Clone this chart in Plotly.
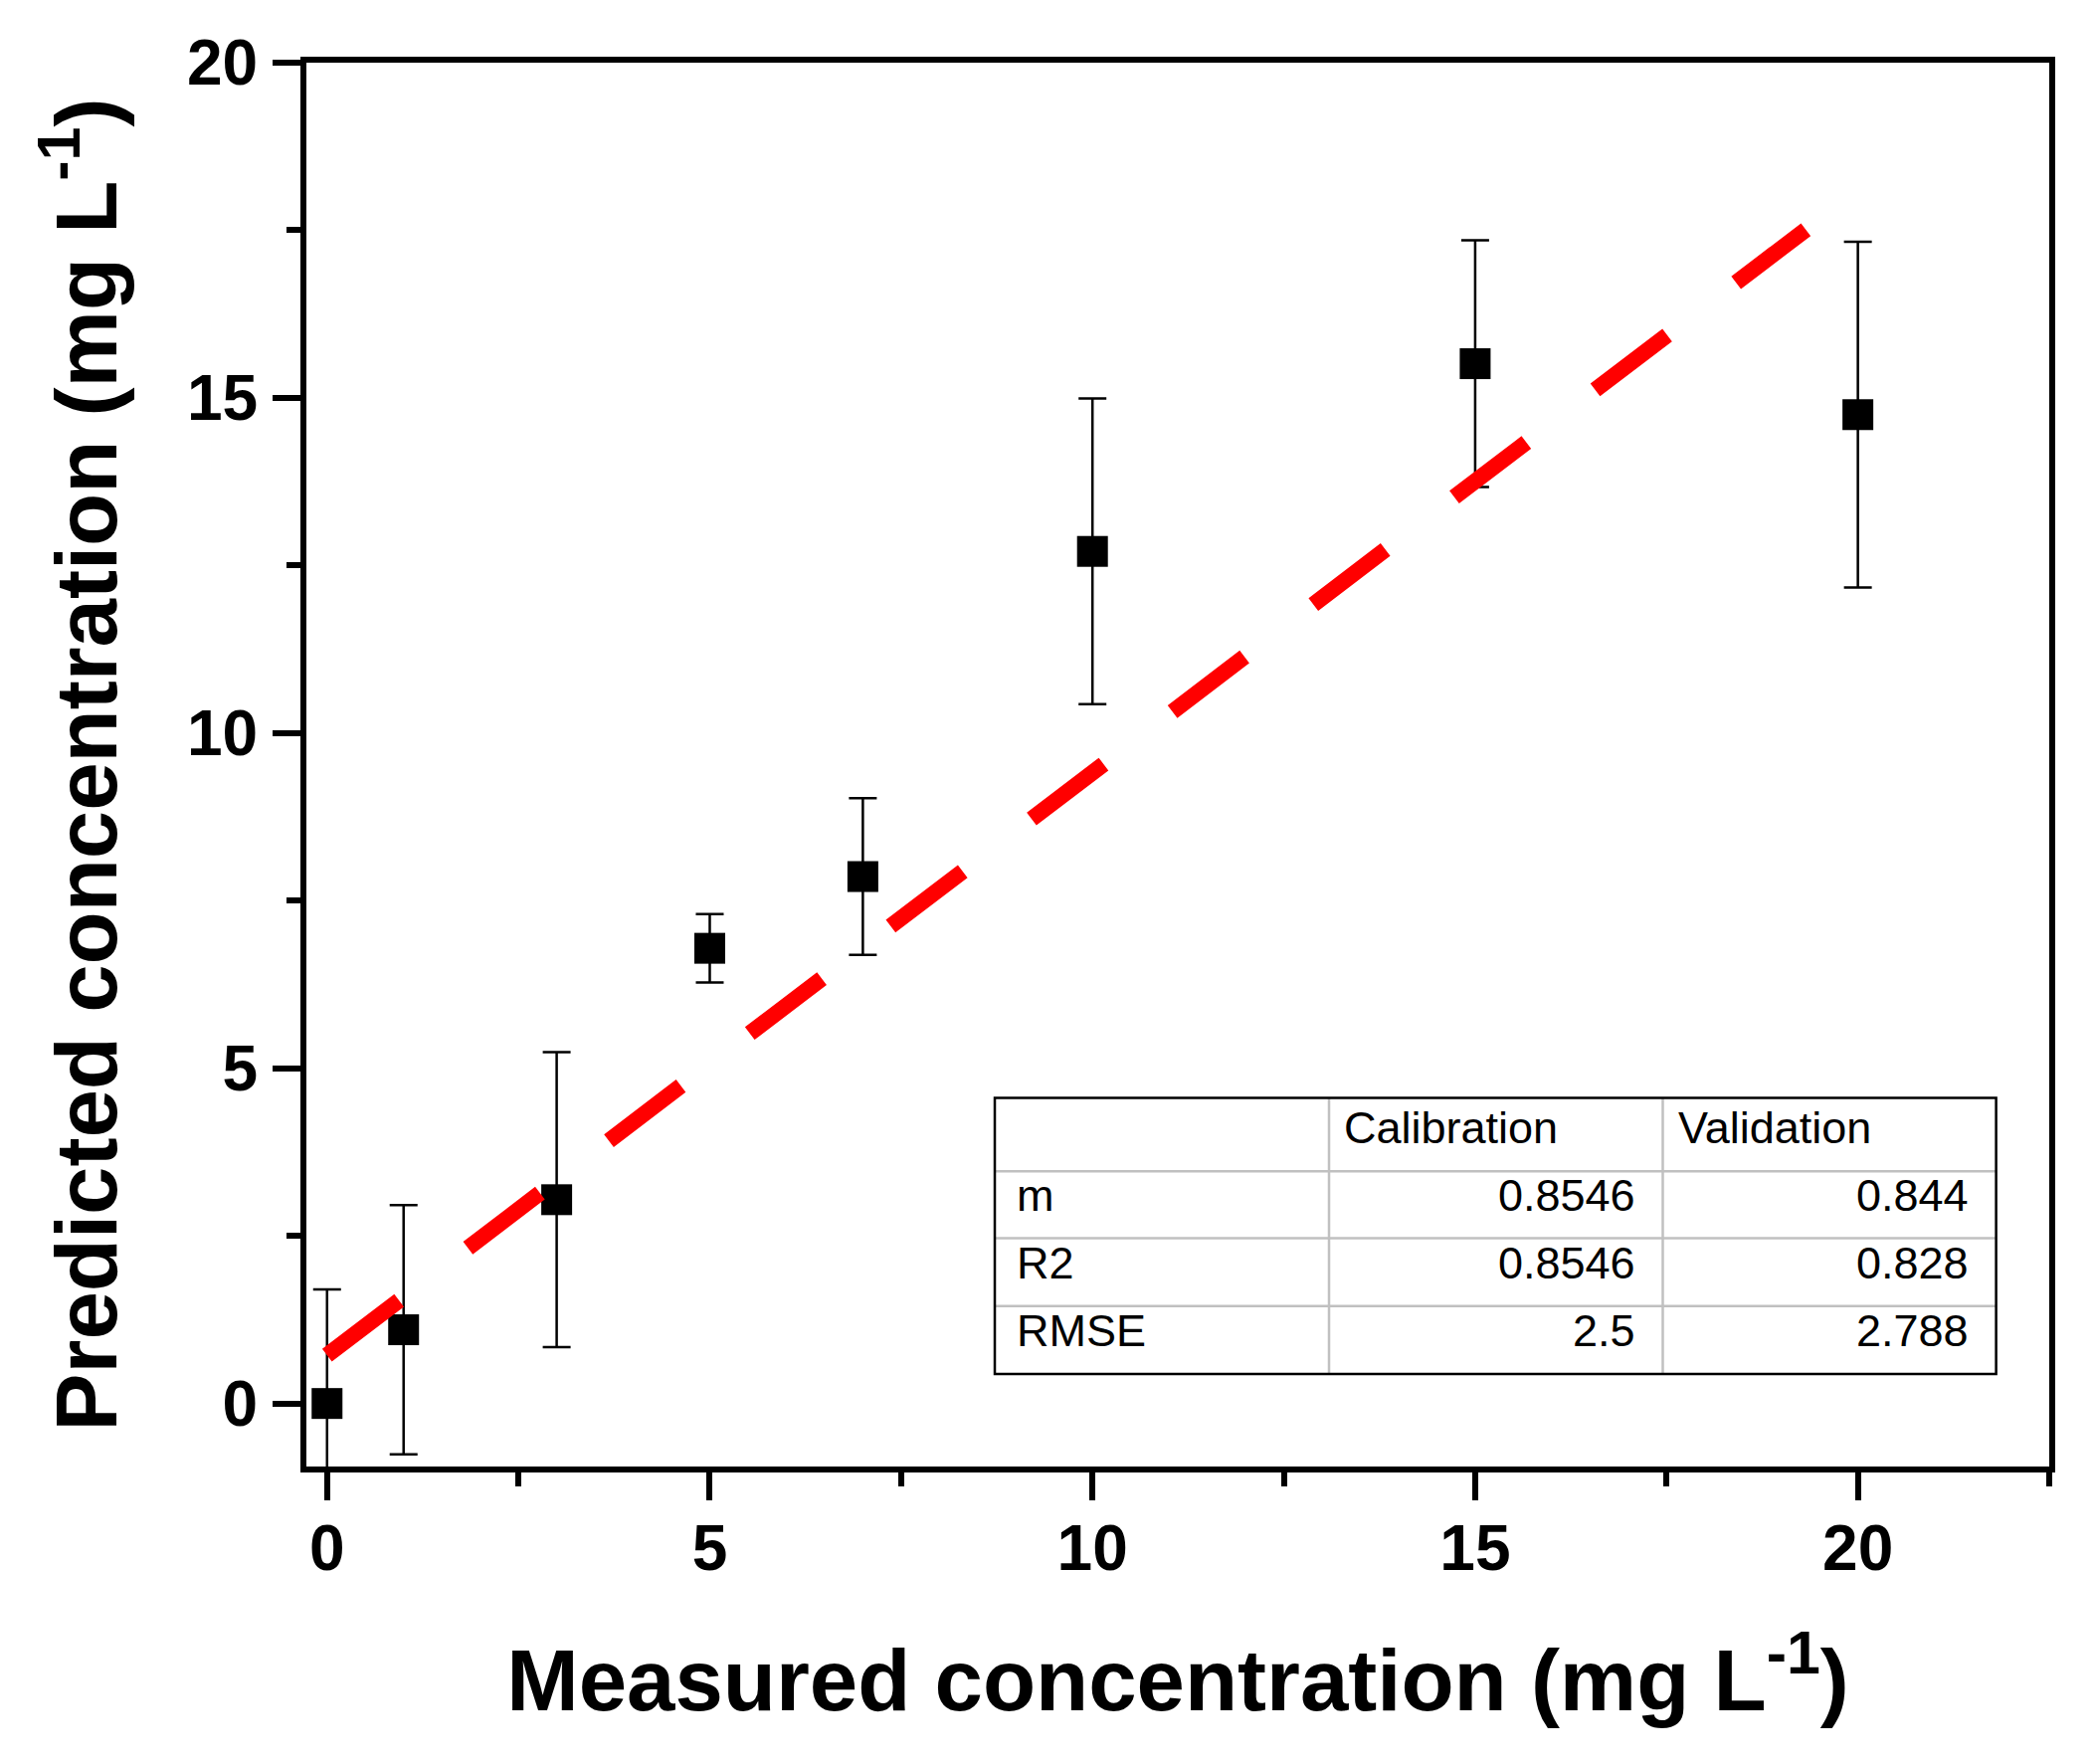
import plotly.graph_objects as go

# ---------------- data ----------------
measured = [0, 1, 3, 5, 7, 10, 15, 20]
predicted = [0.0, 1.10, 3.04, 6.79, 7.86, 12.71, 15.51, 14.75]
pred_err = [1.70, 1.86, 2.20, 0.51, 1.17, 2.28, 1.84, 2.58]

fit_x = [0.0, 19.32]
fit_y = [0.72, 17.51]

x_ticks = [0, 5, 10, 15, 20]
y_ticks = [0, 5, 10, 15, 20]

table_header = ["", "Calibration", "Validation"]
table_labels = ["m", "R2", "RMSE"]
table_calibration = ["0.8546", "0.8546", "2.5"]
table_validation = ["0.844", "0.828", "2.788"]

# ---------------- figure ----------------
W, H = 2106, 1773
ML, MR, MT, MB = 308, 46, 63, 299
PW, PH = W - ML - MR, H - MT - MB

FONT = "Liberation Sans, Arial, sans-serif"

fig = go.Figure()

fig.add_trace(go.Scatter(
    x=measured, y=predicted, mode="markers",
    marker=dict(symbol="square", size=31, color="black"),
    error_y=dict(type="data", array=pred_err, visible=True,
                 color="black", thickness=2.5, width=14),
    showlegend=False, cliponaxis=True,
))

fig.add_trace(go.Scatter(
    x=fit_x, y=fit_y, mode="lines",
    line=dict(color="#ff0000", width=16, dash="91px,87px"),
    showlegend=False,
))

axis_common = dict(
    showgrid=False, zeroline=False,
    showline=True, linecolor="black", linewidth=6, mirror=True,
    ticks="outside", ticklen=28, tickwidth=6, tickcolor="black",
    tickfont=dict(family=FONT, size=64, color="black", weight="bold"),
    minor=dict(ticks="outside", ticklen=14, tickwidth=6, tickcolor="black", dtick=2.5),
)

fig.update_xaxes(
    range=[-0.27, 22.5], tickvals=x_ticks, ticktext=[str(v) for v in x_ticks],
    ticklabelstandoff=-7,
    title=dict(text="Measured concentration (mg L<sup>-1</sup>)",
               font=dict(family=FONT, size=87, color="black", weight="bold"),
               standoff=69),
    **axis_common,
)
fig.update_yaxes(
    range=[-0.94, 20], tickvals=y_ticks, ticktext=[str(v) for v in y_ticks],
    ticklabelstandoff=2,
    title=dict(text="Predicted concentration (mg L<sup>-1</sup>)",
               font=dict(family=FONT, size=87, color="black", weight="bold"),
               standoff=44),
    **axis_common,
)

# ---------------- inset table (pixel geometry -> paper coords) ----------------
def px(xp):
    return (xp - ML) / PW

def py(yp):
    return (H - MB - yp) / PH

col_x = [1000, 1336, 1671.5, 2006.6]
row_y = [1103.5, 1177.3, 1244.6, 1312.8, 1381]

shapes = []
grey = "#c0c0c0"
for xv in col_x[1:-1]:
    shapes.append(dict(type="line", xref="paper", yref="paper",
                       x0=px(xv), x1=px(xv), y0=py(row_y[0]), y1=py(row_y[-1]),
                       line=dict(color=grey, width=2.5)))
for yv in row_y[1:-1]:
    shapes.append(dict(type="line", xref="paper", yref="paper",
                       x0=px(col_x[0]), x1=px(col_x[-1]), y0=py(yv), y1=py(yv),
                       line=dict(color=grey, width=2.5)))
shapes.append(dict(type="rect", xref="paper", yref="paper",
                   x0=px(col_x[0]), x1=px(col_x[-1]), y0=py(row_y[-1]), y1=py(row_y[0]),
                   line=dict(color="black", width=2.5)))

annotations = []
tfont = dict(family=FONT, size=45, color="black")
for j in (1, 2):
    annotations.append(dict(
        xref="paper", yref="paper", x=px(col_x[j] + 13), y=py((row_y[0] + row_y[1]) / 2 - 7),
        text=table_header[j], showarrow=False, xanchor="left", yanchor="middle", font=tfont))
for i, lab in enumerate(table_labels):
    yc = py((row_y[i + 1] + row_y[i + 2]) / 2 - 9)
    annotations.append(dict(
        xref="paper", yref="paper", x=px(col_x[0] + 20), y=yc,
        text=lab, showarrow=False, xanchor="left", yanchor="middle", font=tfont))
    annotations.append(dict(
        xref="paper", yref="paper", x=px(col_x[2] - 26), y=yc,
        text=table_calibration[i], showarrow=False, xanchor="right", yanchor="middle", font=tfont))
    annotations.append(dict(
        xref="paper", yref="paper", x=px(col_x[3] - 26), y=yc,
        text=table_validation[i], showarrow=False, xanchor="right", yanchor="middle", font=tfont))

fig.update_layout(
    width=W, height=H,
    margin=dict(l=ML, r=MR, t=MT, b=MB, pad=0),
    paper_bgcolor="white", plot_bgcolor="white",
    shapes=shapes, annotations=annotations,
    font=dict(family=FONT, color="black"),
)

fig.write_html("out.html",
               config={"displayModeBar": False},
               post_script="document.body.style.margin='0px';document.body.style.padding='0px';")
